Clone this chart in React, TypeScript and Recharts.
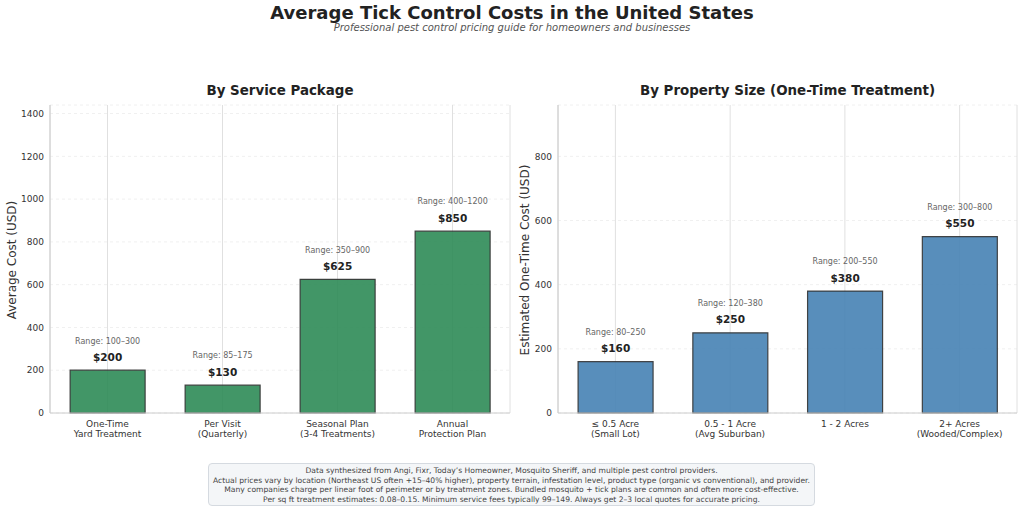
import React from 'react';
import { BarChart, Bar, XAxis, YAxis, CartesianGrid, LabelList } from 'recharts';

const FONT = '"DejaVu Sans", Verdana, sans-serif';

// Left panel: by service package
const packageNames = ['One-Time\nYard Treatment', 'Per Visit\n(Quarterly)', 'Seasonal Plan\n(3-4 Treatments)', 'Annual\nProtection Plan'];
const packageCosts = [200, 130, 625, 850];
const packageRanges = ['100–300', '85–175', '350–900', '400–1200'];
const packageTicks = [0, 200, 400, 600, 800, 1000, 1200, 1400];

// Right panel: by property size
const sizeNames = ['≤ 0.5 Acre\n(Small Lot)', '0.5 - 1 Acre\n(Avg Suburban)', '1 - 2 Acres', '2+ Acres\n(Wooded/Complex)'];
const sizeCosts = [160, 250, 380, 550];
const sizeRanges = ['80–250', '120–380', '200–550', '300–800'];
const sizeTicks = [0, 200, 400, 600, 800];

const footerLines = [
  'Data synthesized from Angi, Fixr, Today’s Homeowner, Mosquito Sheriff, and multiple pest control providers.',
  'Actual prices vary by location (Northeast US often +15–40% higher), property terrain, infestation level, product type (organic vs conventional), and provider.',
  'Many companies charge per linear foot of perimeter or by treatment zones. Bundled mosquito + tick plans are common and often more cost-effective.',
  'Per sq ft treatment estimates: 0.08–0.15. Minimum service fees typically 99–149. Always get 2–3 local quotes for accurate pricing.',
];

const CategoryTick = (props: any) => {
  const { x, y, payload } = props;
  const lines = String(payload.value).split('\n');
  return (
    <text x={x} textAnchor="middle" fontSize={9} fill="#333" fontFamily={FONT}>
      {lines.map((l, i) => (
        <tspan key={i} x={x} y={y + 6 + i * 10}>{l}</tspan>
      ))}
    </text>
  );
};

const makeLabel = (ranges: string[]) => (props: any) => {
  const { x, y, width, value, index } = props;
  const cx = x + width / 2;
  return (
    <g>
      <text x={cx} y={y - 26.7} textAnchor="middle" fontSize={8} fill="#666" fontFamily={FONT}>
        Range: {ranges[index]}
      </text>
      <text x={cx} y={y - 9.3} textAnchor="middle" fontSize={10.5} fontWeight="bold" fill="#222" fontFamily={FONT}>
        ${value}
      </text>
    </g>
  );
};

interface PanelProps {
  names: string[];
  costs: number[];
  ranges: string[];
  ticks: number[];
  max: number;
  fill: string;
  width: number;
  yAxisWidth: number;
  rightMargin: number;
}

function Panel({ names, costs, ranges, ticks, max, fill, width, yAxisWidth, rightMargin }: PanelProps) {
  const data = names.map((name, i) => ({ name, cost: costs[i] }));
  return (
    <BarChart
      width={width}
      height={460}
      data={data}
      margin={{ top: 105, right: rightMargin, left: 0, bottom: 0 }}
      barCategoryGap="17.5%"
    >
      <CartesianGrid horizontal={true} vertical={false} stroke="#f0f0f0" strokeDasharray="3 3" />
      <CartesianGrid horizontal={false} vertical={true} stroke="#e0e0e0" />
      <XAxis
        dataKey="name"
        height={47}
        tickLine={false}
        tickSize={0}
        tickMargin={8}
        axisLine={{ stroke: '#cccccc' }}
        tick={<CategoryTick />}
        interval={0}
      />
      <YAxis
        width={yAxisWidth}
        domain={[0, max]}
        ticks={ticks}
        tickLine={false}
        tickSize={0}
        tickMargin={6}
        axisLine={{ stroke: '#cccccc' }}
        tick={{ fontSize: 9, fill: '#333', fontFamily: FONT }}
      />
      <Bar dataKey="cost" fill={fill} fillOpacity={0.9} stroke="#333" strokeOpacity={0.9} strokeWidth={1.2} isAnimationActive={false}>
        <LabelList dataKey="cost" content={makeLabel(ranges)} />
      </Bar>
    </BarChart>
  );
}

export default function App() {
  return (
    <div style={{ position: 'absolute', left: 0, top: 0, width: 1024, height: 509, background: '#fff', fontFamily: FONT, overflow: 'hidden' }}>
      <div style={{ position: 'absolute', top: 4, width: 1024, textAlign: 'center', fontSize: 18, fontWeight: 'bold', color: '#222', lineHeight: '18px' }}>
        Average Tick Control Costs in the United States
      </div>
      <div style={{ position: 'absolute', top: 22, width: 1024, textAlign: 'center', fontSize: 10, fontStyle: 'italic', color: '#555', lineHeight: '11px' }}>
        Professional pest control pricing guide for homeowners and businesses
      </div>

      <div style={{ position: 'absolute', left: 50, top: 82, width: 460, textAlign: 'center', fontSize: 13.4, fontWeight: 'bold', color: '#222', lineHeight: '18px' }}>
        By Service Package
      </div>
      <div style={{ position: 'absolute', left: 558, top: 82, width: 459, textAlign: 'center', fontSize: 13.4, fontWeight: 'bold', color: '#222', lineHeight: '18px' }}>
        By Property Size (One-Time Treatment)
      </div>

      <div style={{ position: 'absolute', left: 0, top: 0 }}>
        <Panel names={packageNames} costs={packageCosts} ranges={packageRanges} ticks={packageTicks} max={1440}
          fill="#2E8B57" width={520} yAxisWidth={50} rightMargin={10} />
      </div>
      <div style={{ position: 'absolute', left: 510, top: 0 }}>
        <Panel names={sizeNames} costs={sizeCosts} ranges={sizeRanges} ticks={sizeTicks} max={960}
          fill="#4682B4" width={514} yAxisWidth={48} rightMargin={7} />
      </div>

      <div style={{ position: 'absolute', left: 12, top: 260, width: 0, height: 0 }}>
        <div style={{ position: 'absolute', transform: 'translate(-50%, -50%) rotate(-90deg)', whiteSpace: 'nowrap', fontSize: 12, color: '#333' }}>
          Average Cost (USD)
        </div>
      </div>
      <div style={{ position: 'absolute', left: 525, top: 260, width: 0, height: 0 }}>
        <div style={{ position: 'absolute', transform: 'translate(-50%, -50%) rotate(-90deg)', whiteSpace: 'nowrap', fontSize: 12, color: '#333' }}>
          Estimated One-Time Cost (USD)
        </div>
      </div>

      <div style={{ position: 'absolute', left: 208, top: 463, width: 607, height: 43, boxSizing: 'border-box', background: '#f4f6f8', border: '1px solid #d5dae0', borderRadius: 4, textAlign: 'center', fontSize: 7.6, color: '#444', lineHeight: '9.5px', paddingTop: 2 }}>
        {footerLines.map((l, i) => (
          <div key={i} style={{ whiteSpace: 'nowrap' }}>{l}</div>
        ))}
      </div>
    </div>
  );
}
